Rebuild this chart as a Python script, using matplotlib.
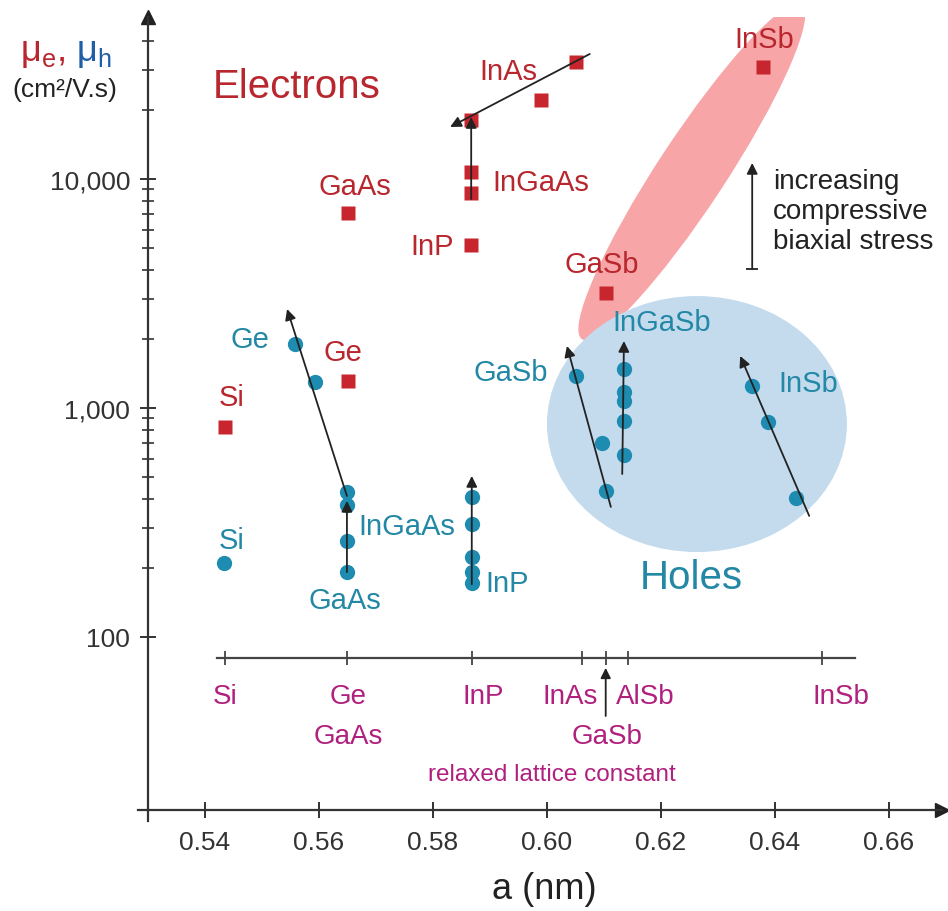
import numpy as np
import matplotlib
matplotlib.use('Agg')
import matplotlib.pyplot as plt
from matplotlib.patches import Ellipse
from matplotlib.transforms import IdentityTransform
from matplotlib.ticker import FixedLocator, NullFormatter

plt.rcParams['font.family'] = ['Liberation Sans', 'DejaVu Sans']
plt.rcParams['mathtext.default'] = 'regular'

# colours
redColor = '#c8262e'
redText = '#b8262e'
tealColor = '#1e8bb0'
tealText = '#2388a5'
blueLabel = '#1f5fa8'
magenta = '#b0207f'
pinkFill = '#f7a5a7'
blueFill = '#c4dbee'

# electron mobility (squares): lattice constant a (nm), mobility (cm2/V.s)
elec_a = [0.5435, 0.5651, 0.5651, 0.5867, 0.5867, 0.5867, 0.5867, 0.5989, 0.6051, 0.6104, 0.6379]
elec_mu = [826, 1318, 7105, 5150, 8690, 10730, 18100, 22130, 32430, 3180, 30830]

# hole mobility (circles)
hole_a = [0.5433, 0.5558, 0.5593,
          0.5649, 0.5649, 0.5649, 0.5649,
          0.5868, 0.5868, 0.5868, 0.5868, 0.5868,
          0.6051, 0.6096, 0.6104,
          0.6135, 0.6135, 0.6135, 0.6135, 0.6135,
          0.6360, 0.6388, 0.6437]
hole_mu = [210, 1904, 1299,
           430, 377, 262, 192,
           408, 311, 223, 192, 172,
           1380, 703, 434,
           1480, 1175, 1073, 878, 624,
           1248, 869, 404]

# labels next to the points
elec_labels = ['Si', 'Ge', 'GaAs', 'InP', 'InGaAs', 'InAs', 'GaSb', 'InSb']
elec_label_a = [0.5446, 0.5642, 0.5663, 0.5798, 0.5989, 0.5932, 0.6096, 0.6381]
elec_label_mu = [1117, 1756, 9310, 5090, 9700, 29620, 4255, 40800]

hole_labels = ['Si', 'Ge', 'InGaAs', 'GaAs', 'InP', 'GaSb', 'InGaSb', 'InSb']
hole_label_a = [0.5446, 0.5479, 0.5754, 0.5646, 0.5930, 0.5937, 0.6202, 0.6458]
hole_label_mu = [265, 2000, 305, 145, 172, 1436, 2374, 1286]

# strain arrows: (a start, mu start, a tip, mu tip)
arrows = [
    (0.5649, 413, 0.5544, 2705),     # Ge holes
    (0.5649, 192, 0.5649, 393),      # GaAs / InGaAs holes
    (0.5868, 170, 0.5868, 505),      # InP holes
    (0.6112, 370, 0.6035, 1866),     # GaSb holes
    (0.6132, 515, 0.6135, 1962),     # InGaSb holes
    (0.6460, 338, 0.6339, 1687),     # InSb holes
    (0.5867, 8180, 0.5867, 18650),   # InGaAs electrons
    (0.6075, 35150, 0.5830, 16870),  # InAs electrons
]

# relaxed lattice constant scale
lat_names = ['Si', 'Ge', 'InP', 'InAs', 'GaSb', 'AlSb', 'InSb']
lat_a = [0.5435, 0.5649, 0.5868, 0.6061, 0.6103, 0.6142, 0.6482]

xticks = [0.54, 0.56, 0.58, 0.60, 0.62, 0.64, 0.66]
ymajor = [100, 1000, 10000]
yminor = [200, 300, 400, 500, 600, 700, 800, 900,
          2000, 3000, 4000, 5000, 6000, 7000, 8000, 9000,
          20000, 30000, 40000]

W, H = 948, 912
fig = plt.figure(figsize=(W / 100, H / 100), dpi=100)
ax = fig.add_axes([147.5 / W, (H - 811) / H, (942 - 147.5) / W, (811 - 18) / H])
ax.set_yscale('log')
ax.set_xlim(0.52991, 0.66930)
ax.set_ylim(17.56, 50980)

# shaded regions (sizes in pixels)
cx, cy = ax.transData.transform((0.6254, 10730))
ax.add_patch(Ellipse((cx, cy), 400, 68, angle=56.7, transform=IdentityTransform(),
                     facecolor=pinkFill, edgecolor='none', zorder=1))
cx, cy = ax.transData.transform((0.6263, 851))
ax.add_patch(Ellipse((cx, cy), 300, 256, transform=IdentityTransform(),
                     facecolor=blueFill, edgecolor='none', zorder=1.5))

ax.plot(elec_a, elec_mu, 's', color=redColor, ms=10.5, mec='none', zorder=3)
ax.plot(hole_a, hole_mu, 'o', color=tealColor, ms=11, mec='none', zorder=3)

for a0, m0, a1, m1 in arrows:
    ax.annotate('', xy=(a1, m1), xytext=(a0, m0),
                arrowprops=dict(arrowstyle='-|>', color='#222222', lw=1.3,
                                mutation_scale=16, shrinkA=0, shrinkB=0),
                zorder=4)

for t, a, m in zip(elec_labels, elec_label_a, elec_label_mu):
    ax.text(a, m, t, color=redText, fontsize=21, ha='center', va='center', zorder=5)
for t, a, m in zip(hole_labels, hole_label_a, hole_label_mu):
    ax.text(a, m, t, color=tealText, fontsize=21, ha='center', va='center', zorder=5)

ax.text(0.5561, 25470, 'Electrons', color=redText, fontsize=29, ha='center', va='center')
ax.text(0.6254, 183, 'Holes', color=tealText, fontsize=29, ha='center', va='center', zorder=5)

# stress annotation
ax.annotate('', xy=(0.6360, 11750), xytext=(0.6360, 4045),
            arrowprops=dict(arrowstyle='-|>', color='#222222', lw=1.3,
                            mutation_scale=16, shrinkA=0, shrinkB=0))
ax.plot([0.6360], [4045], marker='_', color='#222222', ms=9, mew=1.3)
ax.text(0.6396, 7250, 'increasing\ncompressive\nbiaxial stress', fontsize=20,
        ha='left', va='center', linespacing=1.2, color='#222222')

# relaxed lattice constant axis
ax.plot([0.5421, 0.6540], [81, 81], color='#444444', lw=1.6)
ax.plot(lat_a, [81] * len(lat_a), '|', color='#444444', ms=10, mew=1.3)
ax.annotate('', xy=(0.6103, 73.3), xytext=(0.6103, 45.2),
            arrowprops=dict(arrowstyle='-|>', color='#222222', lw=1.3,
                            mutation_scale=15, shrinkA=0, shrinkB=0))
lat_text = [('Si', 0.5435, 55.2, 'center'), ('Ge', 0.5651, 55.2, 'center'),
            ('GaAs', 0.5651, 37.0, 'center'), ('InP', 0.5889, 55.2, 'center'),
            ('InAs', 0.6089, 55.2, 'right'), ('AlSb', 0.6121, 55.2, 'left'),
            ('GaSb', 0.6105, 37.0, 'center'), ('InSb', 0.6516, 55.2, 'center')]
for t, a, m, ha in lat_text:
    ax.text(a, m, t, color=magenta, fontsize=20, ha=ha, va='center')
ax.text(0.6009, 25.2, 'relaxed lattice constant', color=magenta, fontsize=17.5,
        ha='center', va='center')

# axes styling: only left and bottom with arrow heads
for s in ['top', 'right']:
    ax.spines[s].set_visible(False)
for s in ['left', 'bottom']:
    ax.spines[s].set_linewidth(1.6)
    ax.spines[s].set_color('#333333')
ax.plot(1, 0, '>', color='#222222', ms=10, transform=ax.transAxes, clip_on=False)
ax.plot(0, 1, '^', color='#222222', ms=10, transform=ax.transAxes, clip_on=False)
ax.plot([0, 0], [-0.014, 0], color='#333333', lw=1.6, transform=ax.transAxes, clip_on=False)
ax.plot([-0.012, 0], [0, 0], color='#333333', lw=1.6, transform=ax.transAxes, clip_on=False)

ax.xaxis.set_major_locator(FixedLocator(xticks))
ax.set_xticklabels(['%.2f' % v for v in xticks])
ax.yaxis.set_major_locator(FixedLocator(ymajor))
ax.set_yticklabels(['{:,}'.format(v) for v in ymajor])
ax.yaxis.set_minor_locator(FixedLocator(yminor))
ax.yaxis.set_minor_formatter(NullFormatter())
ax.tick_params(axis='both', which='major', direction='inout', length=11, width=1.4,
               color='#333333', labelsize=19, labelcolor='#333333')
ax.tick_params(axis='y', which='minor', direction='inout', length=8, width=1.2, color='#333333')
ax.tick_params(axis='x', which='major', pad=9)
ax.tick_params(axis='y', which='major', pad=7)

ax.set_xlabel('a (nm)', fontsize=26, color='#222222', labelpad=12)

# y axis title
fig.text(20 / W, 1 - 52 / H, 'μ$_e$,', color=redText, fontsize=26, ha='left', va='center')
fig.text(76 / W, 1 - 52 / H, 'μ$_h$', color=blueLabel, fontsize=26, ha='left', va='center')
fig.text(65 / W, 1 - 90 / H, '(cm²/V.s)', color='#222222', fontsize=19, ha='center', va='center')

fig.savefig('out.png', dpi=100, facecolor='white')
